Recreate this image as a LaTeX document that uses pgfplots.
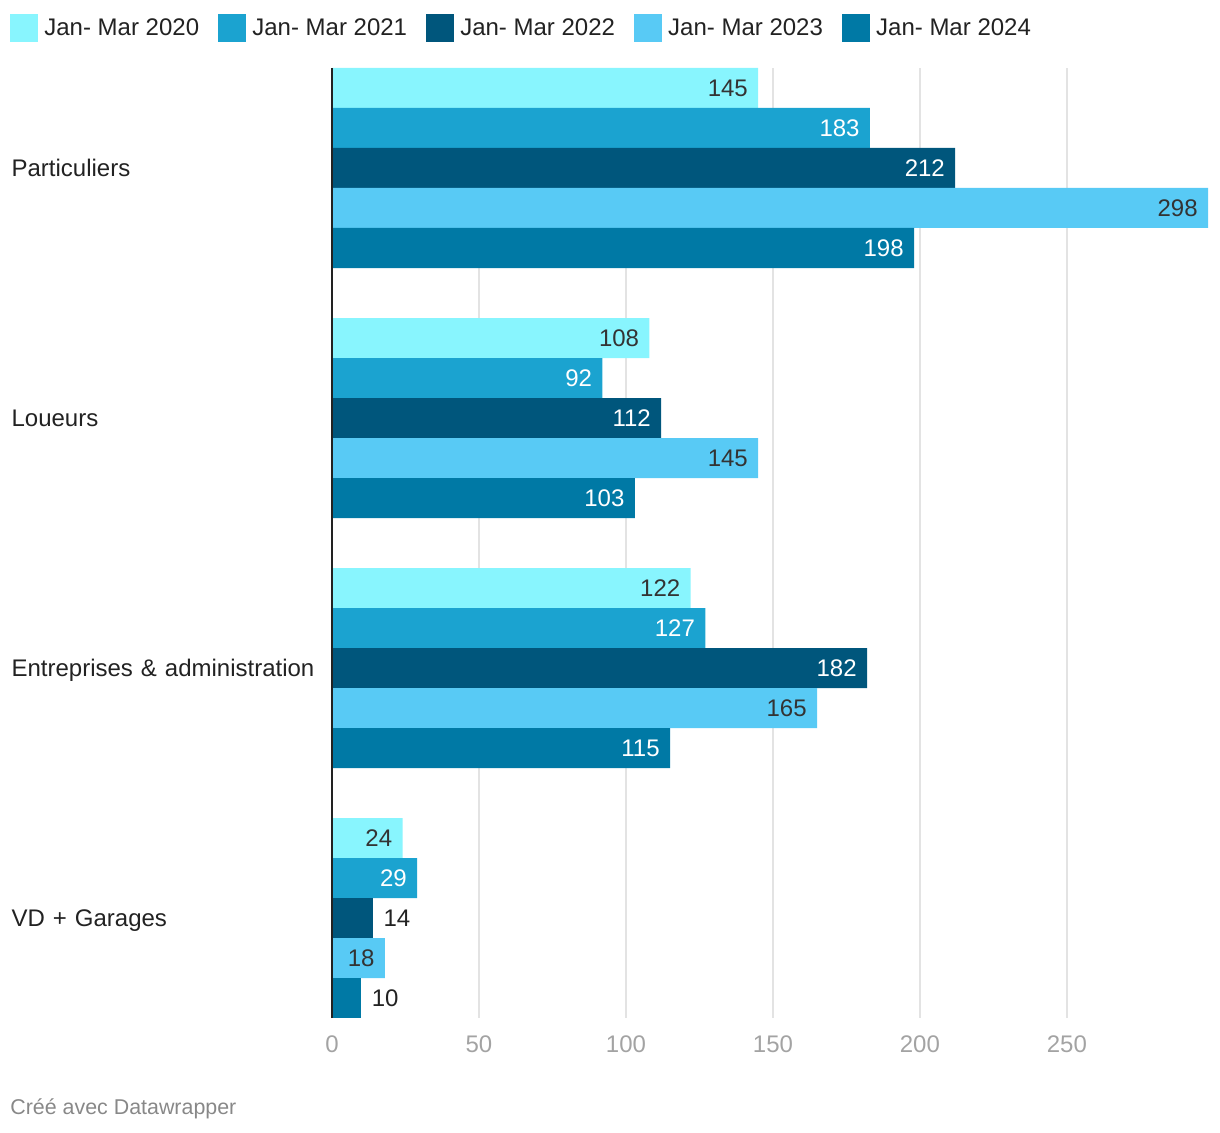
\documentclass[border=0pt]{standalone}
\usepackage{fontspec}
\setmainfont{Liberation Sans}
\usepackage{pgfplots}
\pgfplotsset{compat=1.18}
\definecolor{cA}{HTML}{88F5FE}
\definecolor{cB}{HTML}{1BA3D0}
\definecolor{cC}{HTML}{00567C}
\definecolor{cD}{HTML}{58CAF5}
\definecolor{cE}{HTML}{0079A5}
\definecolor{txt}{HTML}{333333}
\definecolor{dark}{HTML}{222222}
\definecolor{gridc}{HTML}{E3E3E3}
\definecolor{tickc}{HTML}{A3A3A3}
\definecolor{footc}{HTML}{888888}
\newcommand{\fs}{\fontsize{12}{14.4}\selectfont}
\begin{document}
\begin{tikzpicture}
\begin{axis}[
 name=ax,
 scale only axis, width=438pt, height=475pt,
 xbar, bar width=20pt,
 xmin=0, xmax=298, ymin=-0.4, ymax=3.4,
 axis line style={draw=none},
 xmajorgrids, grid style={gridc, line width=1pt},
 xtick={0,50,100,150,200,250},
 ytick={0,1,2,3},
 yticklabels={VD + Garages, Entreprises \& administration, Loueurs, Particuliers},
 major tick length=0pt,
 yticklabel style={anchor=east, text width=160pt, align=left, inner sep=0pt, text height=8.6pt, text depth=0pt, font=\fs, text=dark},
 xticklabel style={anchor=north, inner sep=0pt, yshift=-8.7pt, font=\fs, text=tickc},
 /pgf/number format/assume math mode=true,
 nodes near coords,
 legend columns=5,
 legend style={at={(axis description cs:0,1)}, anchor=north west, xshift=-161pt, yshift=27pt, draw=none, fill=none, inner sep=0pt, font=\fs, text=dark, nodes={inner sep=0pt},
   /tikz/every odd column/.append style={column sep=3pt},
   /tikz/every even column/.append style={column sep=9.6pt}},
 legend image code/.code={\fill[#1] (0pt,-7pt) rectangle (14pt,7pt);},
 clip=false,
]
\addplot[bar shift=40pt, fill=cA, draw=none, nodes near coords style={font=\fs, anchor=east, xshift=-5pt, inner sep=0pt, text=txt}]
 coordinates {(145,3) (108,2) (122,1) (24,0)};
\addlegendentry{Jan- Mar 2020}
\addplot[bar shift=20pt, fill=cB, draw=none, nodes near coords style={font=\fs, anchor=east, xshift=-5pt, inner sep=0pt, text=white}]
 coordinates {(183,3) (92,2) (127,1) (29,0)};
\addlegendentry{Jan- Mar 2021}
\addplot[bar shift=0pt, fill=cC, draw=none, nodes near coords style={font=\fs, anchor=east, xshift=-5pt, inner sep=0pt, text=white}]
 coordinates {(212,3) (112,2) (182,1)};
\addlegendentry{Jan- Mar 2022}
\addplot[bar shift=-20pt, fill=cD, draw=none, nodes near coords style={font=\fs, anchor=east, xshift=-5pt, inner sep=0pt, text=txt}]
 coordinates {(298,3) (145,2) (165,1) (18,0)};
\addlegendentry{Jan- Mar 2023}
\addplot[bar shift=-40pt, fill=cE, draw=none, nodes near coords style={font=\fs, anchor=east, xshift=-5pt, inner sep=0pt, text=white}]
 coordinates {(198,3) (103,2) (115,1)};
\addlegendentry{Jan- Mar 2024}
\addplot[forget plot, bar shift=0pt, fill=cC, draw=none, nodes near coords style={font=\fs, anchor=west, xshift=5pt, inner sep=0pt, text=dark}]
 coordinates {(14,0)};
\addplot[forget plot, bar shift=-40pt, fill=cE, draw=none, nodes near coords style={font=\fs, anchor=west, xshift=5pt, inner sep=0pt, text=dark}]
 coordinates {(10,0)};
\draw[line width=1pt, dark] (axis cs:0,-0.4) -- (axis cs:0,3.4);
\end{axis}
\path ([xshift=-166pt,yshift=-57pt]ax.south west) rectangle ([xshift=6pt,yshift=34pt]ax.north east);
\node[anchor=west, inner sep=0pt, text=footc, font=\fontsize{10.7}{12.8}\selectfont] at ([xshift=-161pt,yshift=-45.5pt]ax.south west) {Créé avec Datawrapper};
\end{tikzpicture}
\end{document}
